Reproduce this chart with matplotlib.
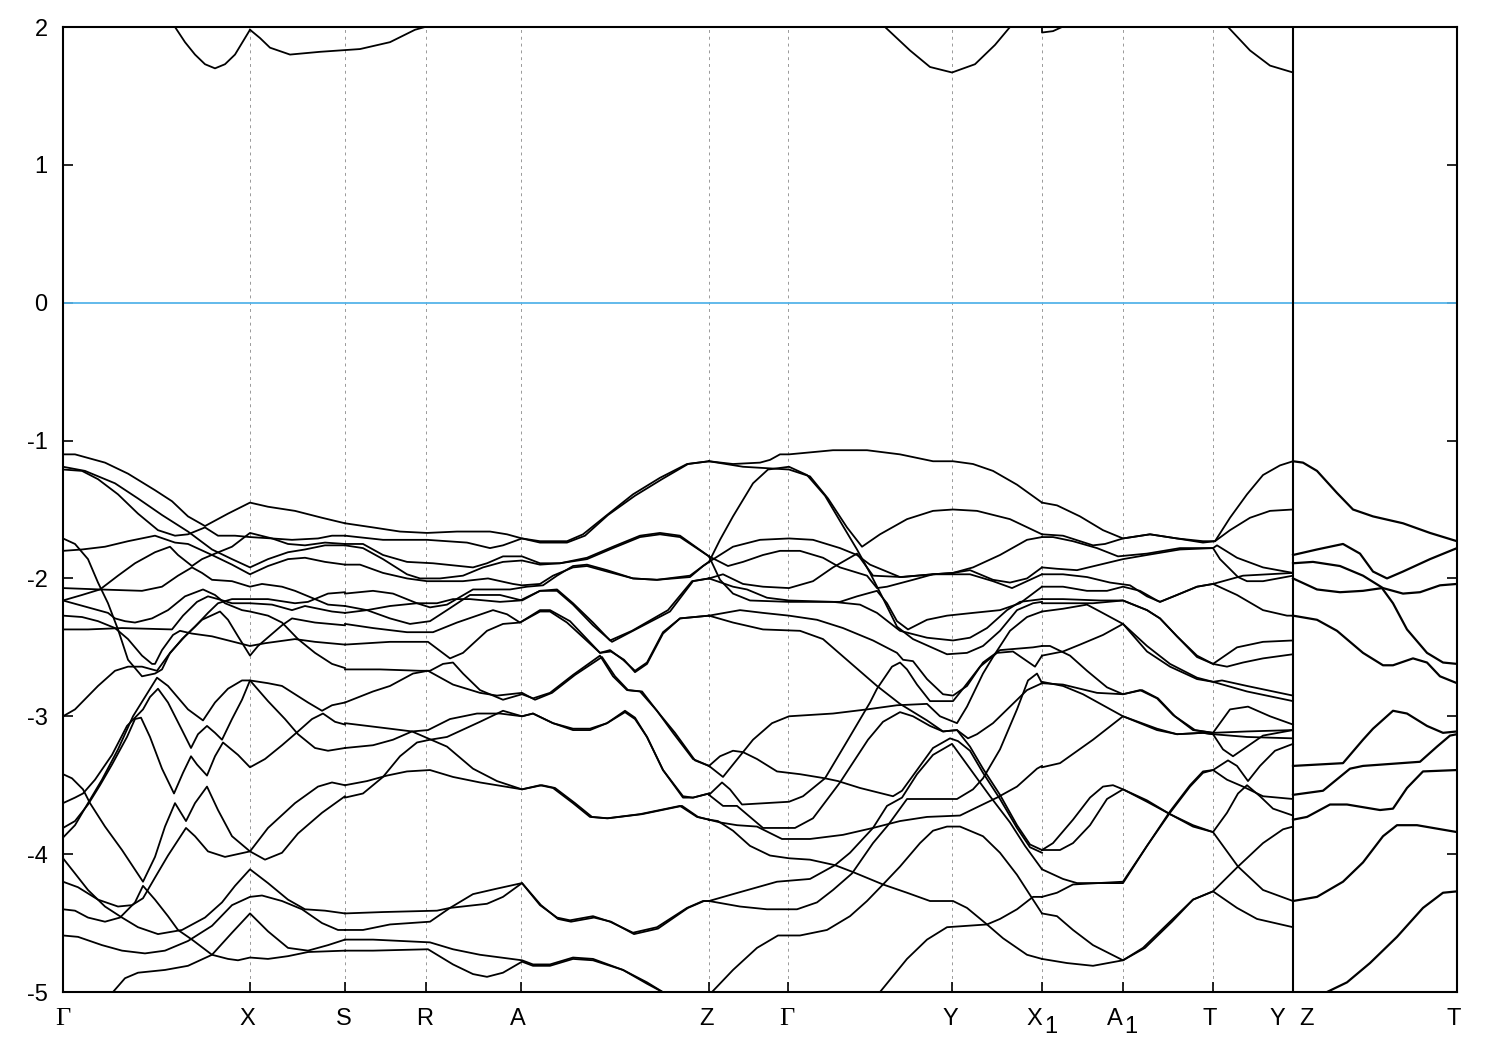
import matplotlib
matplotlib.use("Agg")
import matplotlib.pyplot as plt
from matplotlib.transforms import blended_transform_factory

plt.rcParams["font.family"] = ["Liberation Sans", "DejaVu Sans"]
plt.rcParams["axes.unicode_minus"] = False

# path coordinate of the high symmetry points
K_TICKS = [187, 282, 363, 458, 646, 725, 889, 979, 1060, 1150]
K_BREAK = 1230
K_MAX = 1394
E_TICKS = [-5, -4, -3, -2, -1, 0, 1, 2]

LABELS = ["\u0393", "X", "S", "R", "A", "Z", "\u0393", "Y", "X", "A", "T", "Y", "Z", "T"]
LABEL_K = [0, 184, 281, 362, 455, 643, 724, 887, 971, 1052, 1147, 1214, 1243, 1391]
SUB_K = [988, 1068]

# conduction bands near the top of the window
BANDS_UPPER = [
    ([112, 122, 132, 142, 152, 162, 172, 182, 187], [2.0, 1.89, 1.80, 1.73, 1.70, 1.73, 1.80, 1.92, 1.98]),
    ([187, 197, 207, 227, 257, 297, 327, 352, 362], [1.98, 1.92, 1.85, 1.80, 1.82, 1.84, 1.89, 1.98, 2.0]),
    ([822, 847, 867, 889, 912, 932, 947], [2.0, 1.83, 1.71, 1.67, 1.73, 1.87, 2.0]),
    ([979, 979, 990, 999], [2.0, 1.96, 1.97, 2.0]),
    ([1165, 1187, 1207, 1230], [2.0, 1.83, 1.72, 1.67]),
]

# Gamma -> X -> S
BANDS_GS = [
    ([0, 12, 42, 65, 92, 109, 125, 142, 165, 187, 205, 232, 259, 282],
     [-1.10, -1.10, -1.16, -1.24, -1.36, -1.44, -1.55, -1.62, -1.53, -1.45, -1.48, -1.51, -1.56, -1.60]),
    ([0, 22, 52, 75, 99, 125, 149, 169, 187, 205, 225, 242, 262, 282],
     [-1.19, -1.22, -1.31, -1.42, -1.54, -1.66, -1.79, -1.86, -1.92, -1.86, -1.81, -1.79, -1.76, -1.76]),
    ([0, 19, 35, 55, 75, 95, 112, 125, 142, 155, 172, 187, 209, 229, 255, 269, 282],
     [-1.21, -1.22, -1.28, -1.39, -1.53, -1.65, -1.69, -1.68, -1.63, -1.69, -1.69, -1.70, -1.71, -1.72, -1.71, -1.69, -1.69]),
    ([0, 19, 42, 65, 92, 112, 125, 149, 169, 187, 205, 225, 242, 262, 282],
     [-1.80, -1.79, -1.77, -1.73, -1.69, -1.74, -1.75, -1.83, -1.90, -1.97, -1.91, -1.86, -1.85, -1.88, -1.90]),
    ([0, 19, 37, 55, 72, 92, 107, 115, 129, 139, 152, 169, 187, 209, 225, 242, 262, 282],
     [-2.16, -2.12, -2.08, -1.98, -1.89, -1.81, -1.77, -1.83, -1.91, -1.86, -1.82, -1.77, -1.67, -1.71, -1.75, -1.76, -1.74, -1.75]),
    ([0, 37, 79, 99, 115, 129, 139, 149, 169, 187, 199, 219, 232, 252, 265, 282],
     [-2.07, -2.08, -2.09, -2.06, -1.98, -1.92, -1.96, -2.01, -2.02, -2.06, -2.04, -2.06, -2.09, -2.15, -2.19, -2.20]),
    ([0, 25, 45, 52, 62, 72, 89, 105, 122, 140, 152, 162, 179, 187, 205, 219, 235, 252, 269, 282],
     [-2.16, -2.21, -2.25, -2.29, -2.31, -2.32, -2.29, -2.23, -2.13, -2.08, -2.12, -2.18, -2.23, -2.24, -2.27, -2.32, -2.44, -2.54, -2.62, -2.65]),
    ([0, 25, 59, 109, 120, 134, 145, 155, 169, 187, 209, 229, 242, 269, 282],
     [-2.37, -2.37, -2.36, -2.37, -2.27, -2.17, -2.13, -2.15, -2.18, -2.18, -2.19, -2.23, -2.20, -2.24, -2.25]),
    ([0, 12, 35, 52, 65, 79, 94, 105, 119, 132, 145, 155, 169, 187, 205, 232, 245, 265, 282],
     [-3.00, -2.95, -2.78, -2.67, -2.64, -2.64, -2.67, -2.56, -2.44, -2.35, -2.25, -2.18, -2.15, -2.15, -2.15, -2.18, -2.17, -2.11, -2.10]),
    ([0, 12, 25, 35, 45, 55, 65, 79, 92, 99, 107, 122, 139, 157, 165, 175, 187, 195, 219, 229, 252, 282],
     [-1.71, -1.75, -1.86, -2.03, -2.18, -2.37, -2.59, -2.71, -2.69, -2.66, -2.54, -2.42, -2.30, -2.24, -2.30, -2.42, -2.56, -2.49, -2.34, -2.29, -2.32, -2.34]),
    ([0, 19, 35, 52, 65, 79, 89, 92, 99, 110, 117, 129, 149, 187, 202, 232, 252, 282],
     [-2.27, -2.28, -2.31, -2.36, -2.44, -2.56, -2.62, -2.62, -2.52, -2.41, -2.38, -2.40, -2.42, -2.49, -2.47, -2.44, -2.46, -2.48]),
    ([0, 12, 25, 39, 55, 70, 82, 94, 105, 125, 140, 152, 165, 179, 187, 205, 219, 245, 259, 269, 282],
     [-3.88, -3.79, -3.63, -3.46, -3.24, -3.00, -2.86, -2.72, -2.78, -2.95, -3.03, -2.90, -2.80, -2.74, -2.74, -2.76, -2.78, -2.90, -2.96, -2.92, -2.90]),
    ([0, 12, 20, 32, 49, 64, 80, 87, 95, 105, 119, 128, 135, 144, 152, 159, 169, 179, 187, 205, 222, 235, 252, 265, 282],
     [-3.63, -3.59, -3.56, -3.46, -3.28, -3.07, -2.95, -2.86, -2.80, -2.90, -3.10, -3.23, -3.13, -3.07, -3.12, -3.17, -3.02, -2.88, -2.74, -2.89, -3.02, -3.13, -3.23, -3.25, -3.23]),
    ([0, 12, 25, 37, 49, 64, 72, 78, 87, 99, 111, 120, 128, 134, 144, 152, 160, 175, 187, 202, 219, 235, 249, 260, 272, 282],
     [-3.81, -3.76, -3.64, -3.50, -3.35, -3.15, -3.02, -3.01, -3.15, -3.38, -3.56, -3.41, -3.29, -3.35, -3.43, -3.29, -3.19, -3.28, -3.37, -3.31, -3.21, -3.11, -3.02, -2.98, -3.04, -3.06]),
    ([0, 9, 20, 27, 42, 59, 80, 92, 102, 112, 123, 132, 144, 155, 169, 187, 202, 219, 235, 259, 282],
     [-3.42, -3.45, -3.53, -3.63, -3.80, -3.97, -4.20, -4.02, -3.80, -3.63, -3.76, -3.63, -3.51, -3.68, -3.87, -3.98, -4.04, -3.99, -3.85, -3.70, -3.58]),
    ([0, 15, 35, 55, 69, 80, 92, 105, 123, 132, 145, 162, 187, 205, 232, 255, 269, 282],
     [-4.20, -4.24, -4.33, -4.38, -4.37, -4.32, -4.17, -4.01, -3.81, -3.87, -3.98, -4.02, -3.98, -3.81, -3.63, -3.51, -3.48, -3.50]),
    ([0, 12, 25, 42, 59, 75, 95, 119, 142, 159, 172, 187, 205, 225, 242, 262, 282],
     [-4.03, -4.14, -4.26, -4.38, -4.46, -4.53, -4.58, -4.55, -4.46, -4.35, -4.23, -4.11, -4.21, -4.33, -4.40, -4.41, -4.43]),
    ([0, 12, 25, 42, 57, 72, 80, 92, 105, 115, 129, 149, 165, 175, 187, 205, 225, 245, 282],
     [-4.40, -4.41, -4.46, -4.49, -4.46, -4.35, -4.23, -4.33, -4.45, -4.55, -4.62, -4.73, -4.76, -4.77, -4.75, -4.76, -4.74, -4.71, -4.70]),
    ([0, 15, 39, 59, 82, 102, 125, 149, 169, 187, 199, 219, 239, 259, 275, 282],
     [-4.59, -4.60, -4.66, -4.70, -4.72, -4.70, -4.63, -4.52, -4.37, -4.31, -4.30, -4.34, -4.40, -4.50, -4.55, -4.55]),
    ([50, 62, 75, 102, 125, 149, 169, 187, 205, 225, 245, 265, 282],
     [-5.00, -4.90, -4.86, -4.84, -4.81, -4.73, -4.57, -4.43, -4.56, -4.68, -4.70, -4.66, -4.62]),
]

# S -> R -> A -> Z
BANDS_SZ = [
    ([282, 310, 337, 364, 394, 427, 444, 459, 477, 504, 520, 544, 570, 597, 624, 646],
     [-1.60, -1.63, -1.66, -1.67, -1.66, -1.66, -1.68, -1.71, -1.73, -1.73, -1.68, -1.54, -1.39, -1.27, -1.17, -1.15]),
    ([282, 320, 364, 404, 427, 440, 459, 477, 504, 522, 545, 572, 599, 625, 646],
     [-1.69, -1.72, -1.72, -1.74, -1.78, -1.76, -1.71, -1.74, -1.74, -1.69, -1.54, -1.40, -1.28, -1.17, -1.15]),
    ([282, 300, 320, 344, 370, 410, 424, 440, 459, 477, 497, 524, 550, 577, 597, 617, 646],
     [-1.75, -1.75, -1.83, -1.88, -1.89, -1.92, -1.89, -1.84, -1.84, -1.89, -1.89, -1.85, -1.77, -1.69, -1.67, -1.69, -1.84]),
    ([282, 300, 320, 344, 357, 377, 400, 420, 440, 459, 477, 497, 524, 550, 577, 597, 617, 646],
     [-1.76, -1.78, -1.86, -1.97, -2.00, -2.00, -1.98, -1.92, -1.88, -1.87, -1.90, -1.89, -1.86, -1.78, -1.70, -1.68, -1.70, -1.84]),
    ([282, 297, 320, 344, 364, 400, 425, 450, 459, 477, 490, 510, 524, 544, 570, 594, 627, 640, 646],
     [-1.90, -1.90, -1.96, -2.00, -2.02, -2.02, -2.00, -2.04, -2.05, -2.04, -1.98, -1.92, -1.91, -1.95, -2.00, -2.01, -1.99, -1.91, -1.88]),
    ([282, 310, 330, 354, 367, 384, 410, 447, 464, 480, 494, 510, 524, 544, 570, 594, 627, 640, 646],
     [-2.11, -2.09, -2.11, -2.18, -2.21, -2.19, -2.08, -2.08, -2.06, -2.05, -1.98, -1.91, -1.90, -1.94, -2.00, -2.01, -1.98, -1.91, -1.88]),
    ([282, 304, 327, 347, 367, 384, 407, 437, 459, 477, 494, 510, 530, 549, 570, 607, 630, 646],
     [-2.20, -2.23, -2.29, -2.33, -2.31, -2.23, -2.12, -2.12, -2.16, -2.09, -2.09, -2.19, -2.34, -2.46, -2.38, -2.24, -2.02, -2.00]),
    ([282, 304, 327, 354, 374, 390, 407, 437, 457, 477, 494, 510, 530, 547, 569, 605, 629, 646],
     [-2.25, -2.23, -2.20, -2.18, -2.18, -2.15, -2.15, -2.17, -2.16, -2.09, -2.08, -2.18, -2.32, -2.45, -2.38, -2.23, -2.02, -2.00]),
    ([282, 310, 344, 370, 394, 430, 444, 457, 477, 487, 507, 537, 547, 560, 572, 584, 600, 617, 646],
     [-2.33, -2.36, -2.39, -2.39, -2.32, -2.23, -2.26, -2.32, -2.23, -2.23, -2.31, -2.54, -2.52, -2.59, -2.67, -2.61, -2.39, -2.29, -2.27]),
    ([282, 327, 365, 387, 400, 424, 440, 457, 477, 487, 504, 537, 548, 561, 572, 584, 600, 617, 646],
     [-2.48, -2.46, -2.46, -2.58, -2.54, -2.38, -2.33, -2.32, -2.24, -2.24, -2.32, -2.54, -2.53, -2.59, -2.68, -2.62, -2.40, -2.29, -2.27]),
    ([282, 317, 357, 367, 380, 390, 400, 417, 440, 459, 470, 487, 510, 537, 550, 564, 577, 594, 610, 630, 646],
     [-2.66, -2.66, -2.67, -2.67, -2.62, -2.61, -2.69, -2.81, -2.88, -2.84, -2.87, -2.83, -2.70, -2.56, -2.71, -2.81, -2.82, -2.96, -3.12, -3.31, -3.36]),
    ([282, 310, 327, 350, 365, 390, 417, 434, 459, 472, 489, 512, 539, 552, 565, 579, 595, 612, 632, 646],
     [-2.90, -2.82, -2.78, -2.69, -2.67, -2.77, -2.83, -2.85, -2.83, -2.88, -2.83, -2.70, -2.57, -2.71, -2.81, -2.82, -2.97, -3.12, -3.32, -3.36]),
    ([282, 327, 349, 384, 410, 434, 459, 477, 490, 510, 527, 544, 577, 617, 634, 646],
     [-3.05, -3.09, -3.11, -3.22, -3.38, -3.47, -3.53, -3.50, -3.52, -3.63, -3.73, -3.74, -3.71, -3.65, -3.73, -3.75]),
    ([282, 304, 324, 344, 367, 390, 417, 459, 479, 492, 512, 529, 545, 579, 619, 635, 646],
     [-3.50, -3.47, -3.43, -3.40, -3.39, -3.44, -3.48, -3.53, -3.50, -3.52, -3.63, -3.73, -3.74, -3.71, -3.65, -3.73, -3.75]),
    ([282, 310, 330, 349, 365, 387, 414, 437, 459, 470, 490, 510, 527, 544, 562, 572, 584, 600, 620, 630, 646],
     [-3.23, -3.21, -3.17, -3.11, -3.10, -3.02, -2.98, -2.98, -3.00, -2.98, -3.05, -3.09, -3.09, -3.05, -2.96, -3.01, -3.15, -3.39, -3.58, -3.59, -3.56]),
    ([282, 300, 320, 337, 354, 367, 384, 417, 440, 459, 470, 490, 510, 527, 544, 562, 572, 584, 600, 620, 630, 646],
     [-3.59, -3.56, -3.44, -3.29, -3.19, -3.17, -3.15, -3.04, -2.96, -3.00, -2.98, -3.05, -3.10, -3.10, -3.05, -2.97, -3.02, -3.15, -3.39, -3.59, -3.59, -3.56]),
    ([282, 320, 374, 387, 424, 440, 459, 477, 494, 507, 530, 547, 570, 594, 624, 640, 646],
     [-4.43, -4.42, -4.41, -4.39, -4.36, -4.31, -4.21, -4.37, -4.46, -4.48, -4.45, -4.49, -4.57, -4.53, -4.39, -4.34, -4.34]),
    ([282, 300, 327, 367, 387, 410, 434, 459, 478, 495, 508, 531, 548, 571, 595, 625, 641, 646],
     [-4.55, -4.55, -4.51, -4.49, -4.39, -4.29, -4.25, -4.21, -4.37, -4.47, -4.49, -4.46, -4.49, -4.58, -4.54, -4.39, -4.34, -4.34]),
    ([282, 310, 367, 390, 417, 459, 470, 487, 510, 530, 560, 584, 602],
     [-4.62, -4.62, -4.64, -4.69, -4.73, -4.77, -4.80, -4.80, -4.75, -4.76, -4.84, -4.93, -5.01]),
    ([282, 310, 365, 390, 410, 424, 440, 459, 470, 487, 510, 530, 560, 584, 602],
     [-4.70, -4.70, -4.69, -4.80, -4.87, -4.89, -4.86, -4.78, -4.81, -4.81, -4.76, -4.77, -4.84, -4.94, -5.01]),
]

# Z -> Gamma -> Y -> X1
BANDS_ZX = [
    ([646, 670, 697, 707, 717, 726, 770, 804, 837, 870, 890, 910, 930, 954, 979],
     [-1.15, -1.17, -1.16, -1.14, -1.10, -1.10, -1.07, -1.07, -1.10, -1.15, -1.15, -1.17, -1.22, -1.32, -1.45]),
    ([646, 680, 726, 747, 765, 784, 799, 817, 844, 870, 890, 914, 947, 979],
     [-1.15, -1.19, -1.21, -1.26, -1.42, -1.63, -1.77, -1.68, -1.57, -1.51, -1.50, -1.51, -1.57, -1.68]),
    ([646, 665, 680, 700, 717, 737, 760, 777, 804, 814, 824, 850, 870, 890, 907, 930, 947, 964, 979],
     [-1.84, -1.91, -1.88, -1.83, -1.80, -1.80, -1.85, -1.92, -1.98, -2.07, -2.06, -2.01, -1.97, -1.96, -1.94, -2.01, -2.03, -2.00, -1.92]),
    ([646, 657, 670, 687, 726, 777, 794, 814, 824, 834, 845, 864, 884, 910, 937, 957, 979],
     [-1.84, -2.01, -2.11, -2.16, -2.17, -2.17, -2.13, -2.09, -2.18, -2.31, -2.37, -2.30, -2.27, -2.25, -2.23, -2.18, -2.06]),
    ([646, 657, 670, 690, 705, 726, 744, 762, 780, 794, 807, 819, 834, 850, 884, 904, 920, 937, 954, 970, 979],
     [-1.88, -1.72, -1.55, -1.31, -1.21, -1.19, -1.25, -1.40, -1.62, -1.79, -1.96, -2.13, -2.35, -2.44, -2.55, -2.54, -2.49, -2.38, -2.23, -2.18, -2.17]),
    ([646, 670, 697, 726, 750, 777, 794, 807, 837, 870, 890, 910, 937, 964, 979],
     [-1.88, -1.77, -1.72, -1.71, -1.72, -1.78, -1.83, -1.90, -1.99, -1.97, -1.96, -1.92, -1.83, -1.72, -1.70]),
    ([646, 660, 680, 700, 726, 750, 770, 794, 810, 839, 870, 890, 907, 930, 949, 964, 979],
     [-2.00, -1.97, -2.04, -2.06, -2.07, -2.02, -1.92, -1.82, -1.98, -1.99, -1.97, -1.97, -1.97, -2.02, -2.07, -2.02, -1.97]),
    ([646, 670, 684, 704, 726, 770, 797, 814, 837, 864, 890, 907, 924, 944, 957, 979],
     [-2.00, -2.06, -2.08, -2.14, -2.16, -2.17, -2.19, -2.25, -2.38, -2.43, -2.45, -2.43, -2.36, -2.23, -2.17, -2.15]),
    ([646, 677, 700, 726, 754, 780, 810, 834, 840, 850, 864, 880, 890, 904, 920, 937, 970, 979],
     [-2.27, -2.23, -2.25, -2.27, -2.30, -2.36, -2.45, -2.54, -2.59, -2.60, -2.73, -2.84, -2.85, -2.78, -2.61, -2.52, -2.50, -2.49]),
    ([646, 670, 700, 737, 760, 787, 814, 837, 864, 880, 894, 905, 914, 930, 947, 964, 979],
     [-2.27, -2.32, -2.37, -2.38, -2.44, -2.61, -2.78, -2.91, -3.03, -3.11, -3.10, -3.16, -3.13, -3.05, -2.93, -2.81, -2.76]),
    ([646, 660, 670, 690, 709, 726, 770, 804, 834, 864, 877, 894, 904, 920, 930, 947, 964, 979],
     [-3.36, -3.44, -3.35, -3.17, -3.05, -3.00, -2.98, -2.95, -2.92, -2.91, -3.00, -3.05, -2.93, -2.69, -2.57, -2.38, -2.28, -2.24]),
    ([646, 657, 670, 680, 694, 714, 737, 762, 775, 797, 830, 839, 854, 870, 887, 895, 907, 920, 937, 954, 967, 979],
     [-3.36, -3.29, -3.25, -3.26, -3.31, -3.40, -3.42, -3.45, -3.47, -3.52, -3.58, -3.54, -3.39, -3.23, -3.16, -3.18, -3.25, -3.41, -3.60, -3.81, -3.95, -3.99]),
    ([646, 659, 667, 679, 726, 740, 762, 785, 807, 814, 829, 837, 844, 854, 867, 890, 900, 917, 934, 950, 962, 972, 979],
     [-3.57, -3.48, -3.53, -3.64, -3.62, -3.58, -3.45, -3.17, -2.90, -2.80, -2.64, -2.61, -2.66, -2.77, -2.89, -2.89, -2.80, -2.64, -2.54, -2.53, -2.59, -2.64, -2.56]),
    ([646, 660, 674, 687, 700, 732, 750, 777, 805, 820, 837, 850, 867, 880, 894, 907, 920, 937, 954, 967, 979],
     [-3.57, -3.65, -3.65, -3.73, -3.81, -3.81, -3.74, -3.48, -3.17, -3.04, -2.97, -3.00, -3.07, -3.11, -3.10, -3.22, -3.38, -3.57, -3.79, -3.93, -3.97]),
    ([646, 655, 670, 687, 707, 726, 747, 772, 790, 820, 844, 867, 890, 904, 924, 940, 964, 979],
     [-3.75, -3.76, -3.83, -3.94, -4.01, -4.03, -4.04, -4.08, -4.13, -4.22, -4.28, -4.34, -4.34, -4.39, -4.51, -4.61, -4.73, -4.76]),
    ([646, 657, 674, 694, 719, 747, 780, 810, 837, 864, 897, 914, 934, 954, 974, 979],
     [-3.75, -3.77, -3.79, -3.80, -3.89, -3.89, -3.86, -3.81, -3.76, -3.73, -3.72, -3.66, -3.59, -3.51, -3.38, -3.36]),
    ([646, 670, 714, 747, 772, 787, 810, 824, 839, 854, 870, 889, 900, 916, 927, 947, 962, 979],
     [-4.34, -4.29, -4.20, -4.18, -4.08, -3.99, -3.81, -3.65, -3.59, -3.42, -3.28, -3.20, -3.31, -3.47, -3.58, -3.77, -3.94, -4.11]),
    ([646, 677, 704, 734, 754, 770, 789, 810, 825, 844, 894, 910, 920, 937, 954, 965, 974, 979],
     [-4.34, -4.38, -4.40, -4.40, -4.35, -4.26, -4.14, -3.92, -3.79, -3.60, -3.60, -3.53, -3.45, -3.24, -2.95, -2.74, -2.69, -2.76]),
    ([649, 670, 694, 715, 737, 764, 787, 804, 820, 837, 857, 870, 884, 897, 920, 937, 954, 970, 979],
     [-5.00, -4.84, -4.68, -4.59, -4.59, -4.55, -4.45, -4.34, -4.22, -4.09, -3.92, -3.83, -3.80, -3.80, -3.87, -3.99, -4.15, -4.33, -4.43]),
    ([817, 844, 864, 884, 924, 937, 954, 970, 979],
     [-5.00, -4.76, -4.62, -4.53, -4.51, -4.47, -4.40, -4.31, -4.31]),
]

# X1 -> A1 -> T -> Y
BANDS_XY = [
    ([979, 994, 1017, 1040, 1060, 1087, 1114, 1140, 1152, 1167, 1184, 1200, 1217, 1230],
     [-1.45, -1.47, -1.55, -1.65, -1.71, -1.68, -1.71, -1.73, -1.73, -1.56, -1.39, -1.25, -1.18, -1.15]),
    ([979, 1000, 1030, 1042, 1060, 1087, 1114, 1140, 1152, 1167, 1187, 1207, 1230],
     [-1.68, -1.69, -1.76, -1.75, -1.71, -1.68, -1.71, -1.74, -1.73, -1.65, -1.56, -1.51, -1.50]),
    ([979, 990, 1010, 1034, 1055, 1084, 1117, 1150, 1157, 1175, 1184, 1200, 1230],
     [-1.70, -1.70, -1.73, -1.78, -1.84, -1.82, -1.78, -1.78, -1.86, -1.99, -2.02, -2.02, -1.98]),
    ([979, 994, 1014, 1037, 1060, 1084, 1117, 1150, 1154, 1174, 1200, 1230],
     [-1.92, -1.93, -1.94, -1.90, -1.86, -1.83, -1.79, -1.78, -1.76, -1.85, -1.92, -1.96]),
    ([979, 1000, 1024, 1047, 1067, 1084, 1097, 1114, 1134, 1150, 1180, 1230],
     [-1.97, -1.97, -1.99, -2.03, -2.05, -2.13, -2.17, -2.12, -2.06, -2.04, -1.98, -1.96]),
    ([979, 1000, 1024, 1044, 1060, 1077, 1094, 1097, 1114, 1134, 1150, 1174, 1200, 1224, 1230],
     [-2.06, -2.06, -2.09, -2.09, -2.06, -2.09, -2.16, -2.17, -2.12, -2.06, -2.04, -2.12, -2.23, -2.27, -2.27]),
    ([979, 1000, 1037, 1060, 1084, 1097, 1114, 1134, 1150, 1174, 1200, 1230],
     [-2.15, -2.15, -2.16, -2.16, -2.23, -2.29, -2.42, -2.56, -2.62, -2.50, -2.46, -2.45]),
    ([979, 1000, 1030, 1060, 1084, 1097, 1114, 1134, 1150, 1164, 1180, 1200, 1230],
     [-2.18, -2.18, -2.18, -2.16, -2.23, -2.29, -2.42, -2.57, -2.62, -2.64, -2.61, -2.58, -2.55]),
    ([979, 1000, 1024, 1037, 1060, 1084, 1107, 1134, 1150, 1184, 1230],
     [-2.24, -2.22, -2.19, -2.24, -2.33, -2.49, -2.62, -2.72, -2.75, -2.82, -2.89]),
    ([979, 1000, 1017, 1040, 1060, 1084, 1107, 1134, 1150, 1159, 1184, 1230],
     [-2.56, -2.53, -2.48, -2.41, -2.33, -2.53, -2.64, -2.73, -2.75, -2.74, -2.78, -2.85]),
    ([979, 987, 1007, 1024, 1044, 1060, 1077, 1094, 1110, 1130, 1150, 1167, 1185, 1207, 1230],
     [-2.49, -2.49, -2.56, -2.67, -2.79, -2.84, -2.81, -2.87, -2.99, -3.10, -3.12, -2.95, -2.93, -3.00, -3.06]),
    ([979, 1000, 1034, 1060, 1079, 1095, 1112, 1132, 1150, 1184, 1230],
     [-2.76, -2.77, -2.83, -2.84, -2.81, -2.87, -3.00, -3.10, -3.12, -3.11, -3.10]),
    ([979, 1000, 1020, 1060, 1094, 1114, 1140, 1150, 1160, 1170, 1184, 1200, 1230],
     [-2.75, -2.78, -2.84, -3.00, -3.10, -3.13, -3.12, -3.13, -3.24, -3.29, -3.22, -3.14, -3.10]),
    ([979, 997, 1030, 1060, 1094, 1114, 1140, 1150, 1184, 1230],
     [-3.37, -3.34, -3.17, -3.00, -3.09, -3.13, -3.12, -3.13, -3.15, -3.16]),
    ([979, 997, 1010, 1027, 1044, 1060, 1084, 1107, 1130, 1150, 1164, 1175, 1184, 1197, 1210, 1230],
     [-3.97, -3.97, -3.92, -3.79, -3.60, -3.53, -3.62, -3.71, -3.80, -3.84, -3.70, -3.56, -3.50, -3.58, -3.67, -3.72]),
    ([979, 990, 1010, 1027, 1040, 1050, 1060, 1084, 1107, 1130, 1150, 1175, 1200, 1230],
     [-3.97, -3.92, -3.75, -3.59, -3.51, -3.50, -3.53, -3.61, -3.71, -3.79, -3.84, -4.09, -4.26, -4.34]),
    ([979, 1000, 1014, 1060, 1084, 1107, 1127, 1140, 1150, 1165, 1174, 1185, 1197, 1212, 1230],
     [-4.11, -4.18, -4.21, -4.21, -3.94, -3.70, -3.51, -3.41, -3.39, -3.32, -3.36, -3.47, -3.36, -3.25, -3.20]),
    ([979, 994, 1010, 1060, 1084, 1107, 1127, 1140, 1150, 1164, 1180, 1200, 1230],
     [-4.31, -4.28, -4.22, -4.20, -3.94, -3.69, -3.50, -3.40, -3.39, -3.46, -3.51, -3.58, -3.60]),
    ([979, 994, 1010, 1030, 1060, 1080, 1107, 1130, 1150, 1174, 1194, 1230],
     [-4.43, -4.45, -4.55, -4.66, -4.77, -4.68, -4.49, -4.33, -4.27, -4.39, -4.47, -4.53]),
    ([979, 1004, 1030, 1060, 1082, 1109, 1130, 1150, 1175, 1200, 1220, 1230],
     [-4.76, -4.79, -4.81, -4.77, -4.68, -4.49, -4.33, -4.27, -4.09, -3.92, -3.82, -3.80]),
]

# Z -> T, nearly degenerate pairs
BANDS_ZT = [
    ([1230, 1240, 1254, 1274, 1290, 1310, 1340, 1367, 1394], [-1.15, -1.16, -1.22, -1.38, -1.50, -1.55, -1.60, -1.67, -1.73]),
    ([1230, 1254, 1280, 1297, 1310, 1324, 1340, 1367, 1394], [-1.83, -1.79, -1.75, -1.82, -1.95, -2.00, -1.95, -1.86, -1.78]),
    ([1230, 1250, 1277, 1300, 1320, 1340, 1357, 1377, 1394], [-1.89, -1.88, -1.91, -1.98, -2.07, -2.11, -2.10, -2.05, -2.04]),
    ([1230, 1254, 1277, 1300, 1319, 1330, 1344, 1364, 1380, 1394], [-2.00, -2.08, -2.10, -2.09, -2.07, -2.18, -2.37, -2.54, -2.61, -2.62]),
    ([1230, 1254, 1274, 1300, 1320, 1330, 1350, 1364, 1377, 1394], [-2.27, -2.30, -2.38, -2.54, -2.63, -2.63, -2.58, -2.61, -2.71, -2.76]),
    ([1230, 1280, 1300, 1310, 1330, 1344, 1364, 1380, 1394], [-3.36, -3.34, -3.17, -3.09, -2.96, -2.98, -3.07, -3.12, -3.11]),
    ([1230, 1260, 1287, 1300, 1357, 1374, 1387, 1394], [-3.57, -3.54, -3.38, -3.36, -3.33, -3.22, -3.14, -3.13]),
    ([1230, 1244, 1267, 1284, 1317, 1330, 1344, 1360, 1394], [-3.75, -3.73, -3.64, -3.64, -3.68, -3.67, -3.52, -3.40, -3.39]),
    ([1230, 1254, 1280, 1300, 1320, 1334, 1354, 1394], [-4.34, -4.31, -4.20, -4.06, -3.87, -3.79, -3.79, -3.84]),
    ([1264, 1284, 1307, 1334, 1360, 1380, 1394], [-5.00, -4.93, -4.79, -4.60, -4.39, -4.28, -4.27]),
]


def main():
    fig = plt.figure(figsize=(15, 10.5), dpi=100)
    ax = fig.add_axes([63 / 1500, 58 / 1050, 1394 / 1500, 965 / 1050])

    for section in [BANDS_UPPER, BANDS_GS, BANDS_SZ, BANDS_ZX, BANDS_XY]:
        for k, e in section:
            ax.plot(k, e, color="black", lw=1.3, solid_joinstyle="round")
    for k, e in BANDS_ZT:
        ax.plot(k, e, color="black", lw=1.6, solid_joinstyle="round")

    ax.axhline(0, color="#56b4e9", lw=1.3)
    ax.axvline(K_BREAK, color="black", lw=1.5)
    for k in K_TICKS:
        ax.axvline(k, color="#999999", lw=0.7, ls=(0, (3, 4)), zorder=0)

    ax.set_xlim(0, K_MAX)
    ax.set_ylim(-5, 2)
    ax.set_xticks(K_TICKS)
    ax.set_xticklabels([])
    ax.set_yticks(E_TICKS)
    ax.tick_params(axis="x", direction="in", length=7.5, width=1.2, top=False)
    ax.tick_params(axis="y", direction="in", length=7.5, width=1.2, right=True, labelsize=17, pad=11)
    for s in ax.spines.values():
        s.set_linewidth(1.5)

    trans = blended_transform_factory(ax.transData, ax.transAxes)
    for name, k in zip(LABELS, LABEL_K):
        family = "Liberation Serif" if name == "\u0393" else "Liberation Sans"
        size = 19 if name == "\u0393" else 17
        ax.text(k, -0.028, name, transform=trans, ha="center", va="center", fontsize=size, family=family)
    for k in SUB_K:
        ax.text(k, -0.036, "1", transform=trans, ha="center", va="center", fontsize=17)

    fig.savefig("out.png", dpi=100)


if __name__ == "__main__":
    main()
